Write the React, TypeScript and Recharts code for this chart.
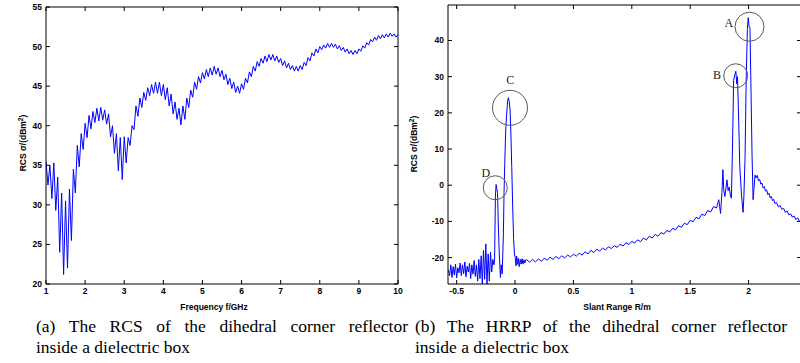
import React from 'react';
import { LineChart, Line, XAxis, YAxis, ReferenceDot } from 'recharts';

// ---------- (a) RCS of the dihedral corner reflector vs frequency ----------
const rcsStartGHz = 1.0;
const rcsStepGHz = 0.1;
// crest values read at 1.0, 1.1, ... 10.0 GHz
const rcsCrestDb: number[] = [
  35.5, 35.0, 35.3, 33.5, 31.5, 30.5, 32.0, 34.5, 37.5, 39.0,
  40.3, 41.3, 41.8, 42.2, 42.3, 42.0, 41.5, 40.0, 39.0, 38.5,
  38.6, 38.5, 40.0, 42.5, 43.5, 44.2, 44.8, 45.2, 45.5, 45.5,
  45.2, 44.8, 44.0, 43.0, 42.2, 42.5, 43.5, 44.5, 45.5, 46.2,
  46.7, 47.1, 47.3, 47.5, 47.3, 47.0, 46.5, 46.0, 45.5, 45.0,
  45.3, 46.0, 46.8, 47.5, 48.1, 48.5, 48.8, 49.0, 49.0, 48.8,
  48.5, 48.2, 47.9, 47.6, 47.5, 47.6, 48.0, 48.6, 49.2, 49.7,
  50.0, 50.2, 50.4, 50.4, 50.3, 50.1, 49.9, 49.7, 49.5, 49.5,
  49.7, 50.1, 50.5, 50.9, 51.2, 51.4, 51.5, 51.6, 51.7, 51.6,
  51.5,
];
// trough values read at 1.05, 1.15, ... 9.95 GHz
const rcsTroughDb: number[] = [
  32.5, 30.8, 29.3, 24.0, 21.2, 22.0, 25.5, 31.5, 34.8, 37.0,
  38.5, 39.6, 40.4, 40.6, 40.7, 40.2, 38.6, 36.5, 34.3, 33.2,
  35.3, 37.5, 39.5, 41.2, 42.3, 43.2, 43.8, 44.1, 44.1, 43.8,
  43.3, 42.5, 41.5, 40.8, 40.1, 40.8, 42.3, 43.6, 44.6, 45.4,
  45.9, 46.2, 46.4, 46.5, 46.2, 45.8, 45.2, 44.7, 44.2, 44.1,
  44.6, 45.4, 46.2, 46.9, 47.5, 47.9, 48.1, 48.3, 48.2, 48.0,
  47.6, 47.3, 47.1, 46.9, 46.9, 47.1, 47.6, 48.2, 48.8, 49.2,
  49.6, 49.8, 49.9, 49.9, 49.7, 49.5, 49.3, 49.1, 49.0, 49.1,
  49.4, 49.8, 50.2, 50.6, 50.8, 51.0, 51.1, 51.2, 51.3, 51.2,
];
const rcsFreqTicks = [1, 2, 3, 4, 5, 6, 7, 8, 9, 10];
const rcsDbTicks = [20, 25, 30, 35, 40, 45, 50, 55];
const rcsFreqDomain = [1, 10];
const rcsDbDomain = [20, 55];

// ---------- (b) HRRP of the dihedral corner reflector ----------
const hrrpRangeM: number[] = [
  -0.57, -0.56, -0.55, -0.54, -0.53, -0.52, -0.51, -0.50, -0.49, -0.48,
  -0.47, -0.46, -0.45, -0.44, -0.43, -0.42, -0.41, -0.40, -0.39, -0.38,
  -0.37, -0.36, -0.35, -0.34, -0.33, -0.32, -0.31, -0.30, -0.29, -0.28,
  -0.27, -0.26, -0.25, -0.24, -0.23, -0.22, -0.21, -0.20, -0.19, -0.18,
  -0.175, -0.168, -0.162, -0.157, -0.150, -0.143, -0.135, -0.125, -0.118, -0.110,
  -0.100, -0.094, -0.088, -0.080, -0.072, -0.064, -0.057, -0.050, -0.043, -0.036,
  -0.028, -0.020, -0.012, -0.005, 0.002, 0.008, 0.014, 0.020, 0.028, 0.036,
  0.044, 0.052, 0.060, 0.068, 0.076, 0.084, 0.092,
  0.100, 0.125, 0.150, 0.175, 0.200, 0.225, 0.250, 0.275, 0.300, 0.325,
  0.350, 0.375, 0.400, 0.425, 0.450, 0.475, 0.500, 0.525, 0.550, 0.575,
  0.600, 0.625, 0.650, 0.675, 0.700, 0.725, 0.750, 0.775, 0.800, 0.825,
  0.850, 0.875, 0.900, 0.925, 0.950, 0.975, 1.000, 1.025, 1.050, 1.075,
  1.100, 1.125, 1.150, 1.175, 1.200, 1.225, 1.250, 1.275, 1.300, 1.325,
  1.350, 1.375, 1.400, 1.425, 1.450, 1.475, 1.500, 1.525, 1.550, 1.575,
  1.600, 1.625, 1.650, 1.675, 1.700,
  1.725, 1.745, 1.760, 1.772, 1.780, 1.788, 1.797, 1.806, 1.815, 1.825,
  1.835, 1.845, 1.853, 1.862, 1.872, 1.882, 1.891, 1.899, 1.905, 1.913,
  1.925, 1.940, 1.953, 1.960, 1.970, 1.980, 1.990, 1.997, 2.004, 2.012,
  2.020, 2.030, 2.039, 2.046, 2.055, 2.065, 2.075, 2.085, 2.095, 2.105,
  2.115, 2.125, 2.135, 2.145, 2.155, 2.165, 2.175, 2.185, 2.195, 2.205,
  2.215, 2.225, 2.240, 2.255, 2.270, 2.285, 2.300, 2.315, 2.330, 2.345,
  2.360, 2.375, 2.390, 2.405, 2.420, 2.435, 2.449,
];
const hrrpDb: number[] = [
  -23.5, -25.0, -22.0, -25.5, -22.5, -24.8, -21.8, -25.6, -22.8, -24.2,
  -21.5, -25.0, -22.0, -24.5, -21.2, -25.3, -22.4, -24.0, -21.6, -25.8,
  -22.0, -24.6, -20.8, -25.2, -22.0, -26.5, -20.5, -25.8, -19.5, -27.5,
  -18.0, -26.0, -16.2, -27.5, -19.0, -26.5, -18.5, -24.0, -20.5, -22.0,
  -20.5, -3.0, 0.2, -0.8, -2.0, -11.0, -19.0, -25.5, -22.0, -24.5,
  -14.0, -2.0, 6.0, 15.0, 19.5, 23.0, 24.2, 23.2, 21.0, 15.0,
  5.0, -6.0, -15.0, -19.0, -20.0, -22.3, -19.6, -21.9, -20.2, -22.5,
  -20.5, -21.8, -20.3, -21.8, -20.6, -21.5, -20.6,
  -20.6, -21.3, -20.5, -21.2, -20.4, -21.0, -20.2, -20.7, -19.9, -20.5,
  -19.7, -20.3, -19.5, -20.1, -19.3, -19.8, -19.1, -19.6, -18.8, -19.3,
  -18.4, -19.0, -18.0, -18.6, -17.7, -18.2, -17.4, -17.9, -17.0, -17.5,
  -16.7, -17.2, -16.3, -16.8, -15.9, -16.4, -15.5, -16.0, -15.1, -15.6,
  -14.6, -15.1, -14.1, -14.6, -13.6, -14.1, -13.1, -13.5, -12.5, -12.9,
  -11.9, -12.3, -11.2, -11.6, -10.5, -10.9, -9.7, -10.1, -8.9, -9.3,
  -8.0, -8.4, -7.0, -7.4, -5.9,
  -6.3, -4.0, -7.8, -2.0, 4.3, -1.5, -3.1, -1.0, 1.5, -1.5,
  -0.5, -3.0, -3.6, 10.0, 29.0, 30.5, 31.5, 28.0, 30.0, 21.0,
  5.0, -3.0, -7.5, -3.0, 8.0, 30.0, 43.0, 46.3, 44.0, 43.5,
  28.0, 8.0, -4.0, -1.0, 2.8, 2.0, 2.7, 1.2, 1.6, 0.3,
  0.6, -0.8, -0.4, -1.6, -1.3, -2.6, -2.2, -3.5, -3.1, -4.3,
  -3.9, -5.0, -4.8, -6.0, -5.6, -6.7, -6.4, -7.5, -7.1, -8.2,
  -7.9, -8.8, -8.5, -9.5, -9.0, -10.0, -9.6,
];
const hrrpRangeTicks = [-0.5, 0, 0.5, 1, 1.5, 2];
const hrrpDbTicks = [-20, -10, 0, 10, 20, 30, 40];
const hrrpRangeDomain = [-0.574, 2.449];
const hrrpDbDomain = [-27.3, 49.8];

// scattering-centre markers (circle centre and letter position in data units)
const markerNames = ['A', 'B', 'C', 'D'];
const markerRangeM = [2.008, 1.89, -0.043, -0.169];
const markerDb = [43.8, 30.25, 21.4, -0.7];
const letterRangeM = [1.83, 1.729, -0.04, -0.25];
const letterDb = [44.8, 30.4, 29.2, 3.5];

// ---------- styles ----------
const MARKER_RADII = [14.5, 12, 17.5, 12];
const LINE_BLUE = '#0000ff';
const TICK_LEN = 4;
const TICK_FONT: any = {
  fontFamily: '"Liberation Sans", Arial, sans-serif',
  fontSize: 8.5,
  fontWeight: 700,
  fill: '#000',
};
const CAPTION_STYLE: React.CSSProperties = {
  position: 'absolute',
  width: 372,
  fontFamily: '"Liberation Serif", "Times New Roman", serif',
  fontSize: 17.5,
  lineHeight: '20px',
  color: '#000',
  whiteSpace: 'nowrap',
};

// ---------- tables ----------
const rcsData: { f: number; db: number }[] = [];
rcsCrestDb.forEach((v, i) => {
  rcsData.push({ f: +(rcsStartGHz + i * rcsStepGHz).toFixed(3), db: v });
  if (i < rcsTroughDb.length) {
    rcsData.push({ f: +(rcsStartGHz + (i + 0.5) * rcsStepGHz).toFixed(3), db: rcsTroughDb[i] });
  }
});
const hrrpData = hrrpRangeM.map((r, i) => ({ r, db: hrrpDb[i] }));

// ---------- tick renderers (MATLAB style inward ticks) ----------
const fmt = (v: number) => String(v);

const BottomTick = (p: any) => (
  <g>
    <line x1={p.x} x2={p.x} y1={p.y} y2={p.y - TICK_LEN} stroke="#000" strokeWidth={1} />
    <text x={p.x} y={p.y + 9.5} textAnchor="middle" {...TICK_FONT}>
      {fmt(p.payload.value)}
    </text>
  </g>
);
const TopTick = (p: any) => (
  <line x1={p.x} x2={p.x} y1={p.y} y2={p.y + TICK_LEN} stroke="#000" strokeWidth={1} />
);
const LeftTick = (p: any) => (
  <g>
    <line x1={p.x} x2={p.x + TICK_LEN} y1={p.y} y2={p.y} stroke="#000" strokeWidth={1} />
    <text x={p.x - 4} y={p.y + 3} textAnchor="end" {...TICK_FONT}>
      {fmt(p.payload.value)}
    </text>
  </g>
);
const RightTick = (p: any) => (
  <line x1={p.x} x2={p.x - TICK_LEN} y1={p.y} y2={p.y} stroke="#000" strokeWidth={1} />
);

const axisLine = { stroke: '#000', strokeWidth: 1 };

function FrameAxes({ xKey, xDomain, xTicks, yDomain, yTicks }: any) {
  return null;
}

function RcsChart() {
  return (
    <LineChart width={412} height={363} data={rcsData} margin={{ top: 6, right: 13, bottom: 59, left: 16 }}>
      <XAxis
        dataKey="f"
        type="number"
        domain={rcsFreqDomain}
        ticks={rcsFreqTicks}
        interval={0}
        height={20}
        tickSize={0}
        tickMargin={0}
        tickLine={false}
        axisLine={axisLine}
        tick={BottomTick}
        allowDataOverflow
      />
      <XAxis
        xAxisId="top"
        orientation="top"
        type="number"
        dataKey="f"
        domain={rcsFreqDomain}
        ticks={rcsFreqTicks}
        interval={0}
        height={1}
        tickSize={0}
        tickMargin={0}
        tickLine={false}
        axisLine={axisLine}
        tick={TopTick}
        allowDataOverflow
      />
      <YAxis
        type="number"
        domain={rcsDbDomain}
        ticks={rcsDbTicks}
        interval={0}
        width={30}
        tickSize={0}
        tickMargin={0}
        tickLine={false}
        axisLine={axisLine}
        tick={LeftTick}
        allowDataOverflow
      />
      <YAxis
        yAxisId="right"
        orientation="right"
        type="number"
        domain={rcsDbDomain}
        ticks={rcsDbTicks}
        interval={0}
        width={1}
        tickSize={0}
        tickMargin={0}
        tickLine={false}
        axisLine={axisLine}
        tick={RightTick}
        allowDataOverflow
      />
      <Line
        type="linear"
        dataKey="db"
        stroke={LINE_BLUE}
        strokeWidth={1}
        dot={false}
        activeDot={false}
        isAnimationActive={false}
      />
    </LineChart>
  );
}

function HrrpChart() {
  return (
    <LineChart width={402} height={363} data={hrrpData} margin={{ top: 4, right: 0, bottom: 59, left: 18 }}>
      <XAxis
        dataKey="r"
        type="number"
        domain={hrrpRangeDomain}
        ticks={hrrpRangeTicks}
        interval={0}
        height={20}
        tickSize={0}
        tickMargin={0}
        tickLine={false}
        axisLine={axisLine}
        tick={BottomTick}
        allowDataOverflow
      />
      <XAxis
        xAxisId="top"
        orientation="top"
        type="number"
        dataKey="r"
        domain={hrrpRangeDomain}
        ticks={hrrpRangeTicks}
        interval={0}
        height={1}
        tickSize={0}
        tickMargin={0}
        tickLine={false}
        axisLine={axisLine}
        tick={TopTick}
        allowDataOverflow
      />
      <YAxis
        type="number"
        domain={hrrpDbDomain}
        ticks={hrrpDbTicks}
        interval={0}
        width={30}
        tickSize={0}
        tickMargin={0}
        tickLine={false}
        axisLine={axisLine}
        tick={LeftTick}
        allowDataOverflow
      />
      <YAxis
        yAxisId="right"
        orientation="right"
        type="number"
        domain={hrrpDbDomain}
        ticks={hrrpDbTicks}
        interval={0}
        width={1}
        tickSize={0}
        tickMargin={0}
        tickLine={false}
        axisLine={axisLine}
        tick={RightTick}
        allowDataOverflow
      />
      <Line
        type="linear"
        dataKey="db"
        stroke={LINE_BLUE}
        strokeWidth={1}
        dot={false}
        activeDot={false}
        isAnimationActive={false}
      />
      {markerNames.map((name, i) => (
        <ReferenceDot
          key={'c' + name}
          x={markerRangeM[i]}
          y={markerDb[i]}
          r={MARKER_RADII[i]}
          fill="none"
          stroke="#5a5a5a"
          strokeWidth={1}
          ifOverflow="visible"
        />
      ))}
      {markerNames.map((name, i) => (
        <ReferenceDot
          key={'l' + name}
          x={letterRangeM[i]}
          y={letterDb[i]}
          r={1}
          ifOverflow="visible"
          shape={(p: any) => (
            <text
              x={p.cx}
              y={p.cy + 4}
              textAnchor="middle"
              fontFamily={'"Liberation Serif", "Times New Roman", serif'}
              fontSize={12}
              fill="#222"
            >
              {name}
            </text>
          )}
        />
      ))}
    </LineChart>
  );
}

const TITLE_FONT: any = {
  fontFamily: '"Liberation Sans", Arial, sans-serif',
  fontSize: 8.5,
  fontWeight: 700,
  fill: '#000',
};

export default function App() {
  return (
    <div
      style={{
        position: 'absolute',
        left: 0,
        top: 0,
        width: 800,
        height: 363,
        overflow: 'hidden',
        background: '#fff',
      }}
    >
      <div style={{ position: 'absolute', left: 0, top: 0 }}>
        <RcsChart />
      </div>
      <div style={{ position: 'absolute', left: 400, top: 0 }}>
        <HrrpChart />
      </div>
      <svg width={800} height={363} style={{ position: 'absolute', left: 0, top: 0, pointerEvents: 'none' }}>
        <text x={214} y={310} textAnchor="middle" {...TITLE_FONT}>
          Frequency f/GHz
        </text>
        <text x={617} y={310} textAnchor="middle" {...TITLE_FONT}>
          Slant Range R/m
        </text>
        <text transform="translate(26,143) rotate(-90)" textAnchor="middle" {...TITLE_FONT}>
          RCS σ/(dBm
          <tspan dy={-3} fontSize={6.5}>
            2
          </tspan>
          <tspan dy={3}>)</tspan>
        </text>
        <text transform="translate(417,144) rotate(-90)" textAnchor="middle" {...TITLE_FONT}>
          RCS σ/(dBm
          <tspan dy={-3} fontSize={6.5}>
            2
          </tspan>
          <tspan dy={3}>)</tspan>
        </text>
      </svg>
      <div style={{ ...CAPTION_STYLE, left: 36, top: 316, textAlign: 'justify', textAlignLast: 'justify' }}>
        (a) The RCS of the dihedral corner reflector
      </div>
      <div style={{ ...CAPTION_STYLE, left: 36, top: 337 }}>inside a dielectric box</div>
      <div style={{ ...CAPTION_STYLE, left: 415, top: 316, textAlign: 'justify', textAlignLast: 'justify' }}>
        (b) The HRRP of the dihedral corner reflector
      </div>
      <div style={{ ...CAPTION_STYLE, left: 415, top: 337 }}>inside a dielectric box</div>
    </div>
  );
}
